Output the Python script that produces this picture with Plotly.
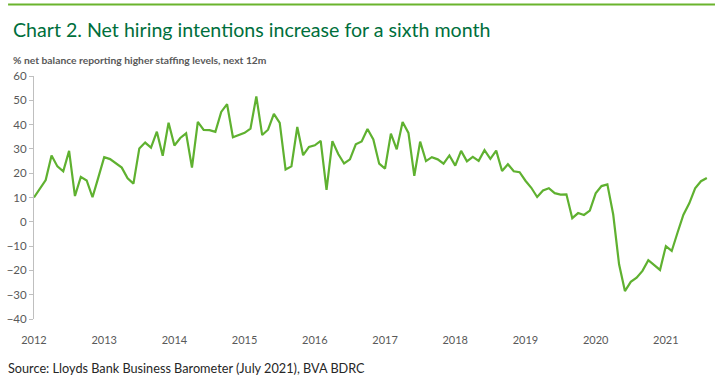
import plotly.graph_objects as go

# Monthly net balance (%), first point at the "2012" tick
values = [
    10, 13.5, 17.2, 27.3, 22.8, 20.8, 29.2, 10.6, 18.5, 17, 10.1, 18.3,
    26.6, 25.8, 23.9, 22.3, 17.9, 15.7, 30.2, 32.6, 30.5, 37.1, 27.2, 40.8,
    31.4, 34.5, 36.4, 22.3, 41.1, 37.8, 37.7, 37, 45.2, 48.4, 34.8, 35.6,
    36.6, 38.3, 51.6, 35.7, 37.9, 44.4, 40.7, 21.5, 22.8, 39, 27.4, 30.8,
    31.5, 33.3, 13.1, 33.2, 27.9, 24, 25.7, 31.9, 33.1, 38.2, 33.9, 23.9,
    21.9, 36.3, 29.8, 41.1, 36.6, 18.9, 33, 25, 26.6, 25.7, 23.9, 27.3,
    23.1, 29.2, 24.9, 26.7, 25.1, 29.5, 25.9, 29.3, 20.9, 23.7, 20.8, 20.4,
    16.9, 14, 10.2, 12.9, 13.8, 11.8, 11.2, 11.3, 1.5, 3.6, 2.8, 4.6,
    11.7, 14.7, 15.4, 3, -17.5, -28.5, -24.7, -23, -20.2, -15.8, -17.8, -19.8,
    -10, -12, -4.4, 2.9, 7.6, 13.8, 16.7, 18,
]
months = list(range(len(values)))
year_labels = ["2012", "2013", "2014", "2015", "2016", "2017", "2018", "2019", "2020", "2021"]
year_ticks = [12 * i for i in range(len(year_labels))]
y_ticks = list(range(-40, 61, 10))

TITLE = "Chart 2. Net hiring intentions increase for a sixth month"
SUBTITLE = "% net balance reporting higher staffing levels, next 12m"
SOURCE = "Source: Lloyds Bank Business Barometer (July 2021), BVA BDRC"

W, H = 715, 381
L, R, T, B = 32, 7, 76, 62
PW, PH = W - L - R, H - T - B

def px(x):
    return (x - L) / PW

def py(y):
    return (H - B - y) / PH

FONT = "Lato, sans-serif"
GREY = "#595959"
AXIS = "#a6a6a6"
xr = [0, 115.2]

fig = go.Figure()
fig.add_trace(go.Scatter(
    x=months, y=values, mode="lines",
    line=dict(color="#5fb130", width=2.2),
    showlegend=False, hoverinfo="skip",
))

fig.update_layout(
    width=W, height=H,
    margin=dict(l=L, r=R, t=T, b=B, pad=0),
    paper_bgcolor="white", plot_bgcolor="white",
    font=dict(family=FONT, color=GREY),
    xaxis=dict(
        range=xr, tickvals=year_ticks, ticktext=year_labels,
        showline=False, showgrid=False, zeroline=False,
        ticks="outside", ticklen=11, tickcolor="rgba(0,0,0,0)",
        tickfont=dict(size=11, color=GREY, family=FONT),
    ),
    xaxis2=dict(
        range=xr, overlaying="x", anchor="free", position=0.4,
        side="bottom", tickvals=year_ticks, showticklabels=False,
        showline=True, linecolor=AXIS, linewidth=1.5,
        ticks="outside", ticklen=5, tickcolor=AXIS, tickwidth=1,
        showgrid=False, zeroline=False,
    ),
    yaxis=dict(
        range=[-40, 60], tickvals=y_ticks,
        showline=True, linecolor="#bfbfbf", linewidth=1,
        ticks="outside", ticklen=4, tickcolor="#bfbfbf",
        showgrid=False, zeroline=False,
        tickfont=dict(size=11.5, color=GREY, family=FONT),
    ),
    shapes=[
        dict(type="line", xref="paper", yref="paper",
             x0=px(6), x1=px(715), y0=py(4.5), y1=py(4.5),
             line=dict(color="#6ab42d", width=2)),
    ],
    annotations=[
        dict(text=TITLE, xref="paper", yref="paper", x=px(9), y=py(29),
             xanchor="left", yanchor="middle", showarrow=False,
             font=dict(size=19.6, color="#006f3c", family=FONT)),
        dict(text="<b>" + SUBTITLE + "</b>", xref="paper", yref="paper", x=px(9), y=py(60),
             xanchor="left", yanchor="middle", showarrow=False,
             font=dict(size=10.3, color=GREY, family=FONT)),
        dict(text=SOURCE, xref="paper", yref="paper", x=px(4), y=py(368),
             xanchor="left", yanchor="middle", showarrow=False,
             font=dict(size=12.7, color="#262626", family=FONT)),
    ],
)

fig.write_html("out.html", config={"displayModeBar": False},
               post_script="document.body.style.margin='0px';")
